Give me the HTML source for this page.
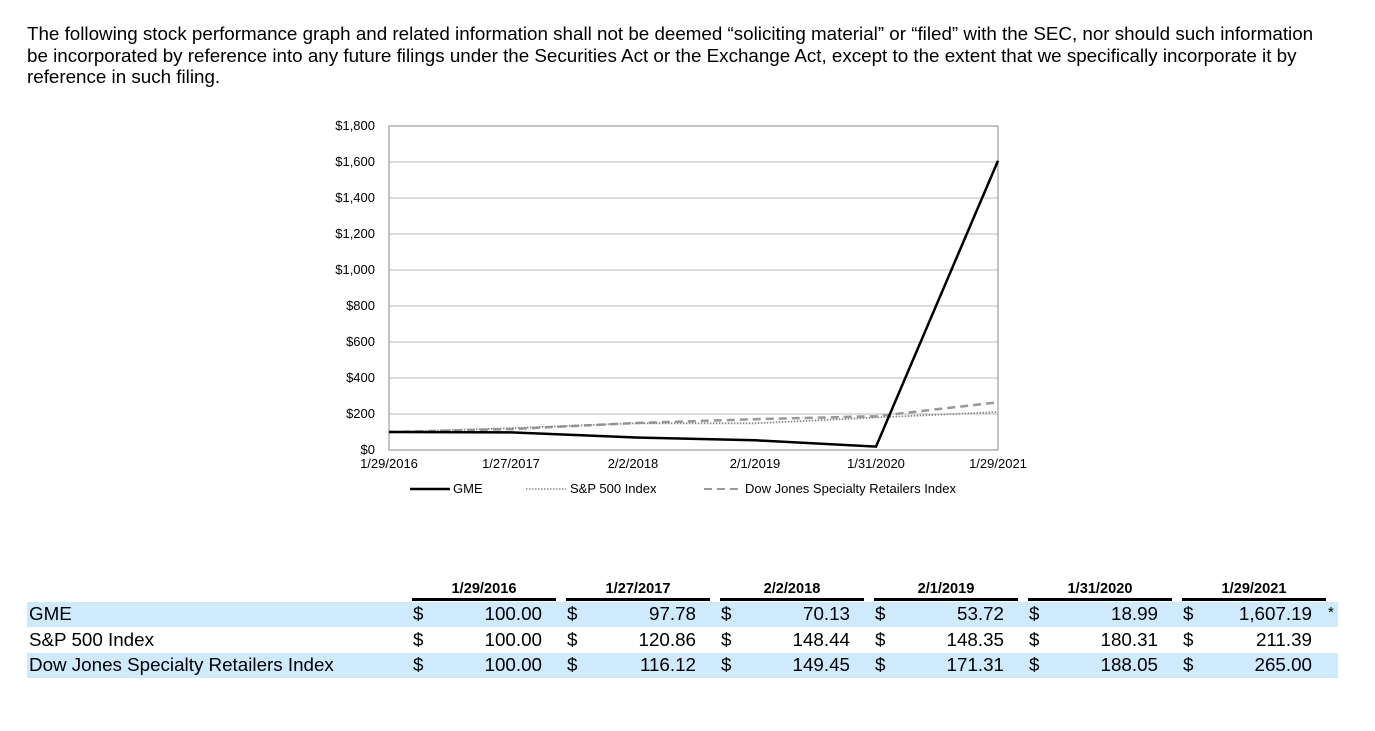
<!DOCTYPE html>
<html><head><meta charset="utf-8"><style>
body{margin:0;width:1375px;height:731px;background:#fff;font-family:"Liberation Sans",Arial,sans-serif;position:relative;overflow:hidden;color:#000}
.p{position:absolute;left:27px;top:23px;font-size:18.8px;line-height:21.5px;white-space:nowrap}
.t{position:absolute;font-size:18.8px;white-space:nowrap;line-height:20px}
.h{position:absolute;font-size:14.6px;font-weight:bold;top:581px;text-align:center;width:144px}
.band{position:absolute;left:27px;width:1311px;height:25px;background:#cfeafc}
.ul{position:absolute;top:598px;height:3px;background:#000;width:144px}
</style></head><body>
<div class="p">The following stock performance graph and related information shall not be deemed “soliciting material” or “filed” with the SEC, nor should such information<br>be incorporated by reference into any future filings under the Securities Act or the Exchange Act, except to the extent that we specifically incorporate it by<br>reference in such filing.</div>
<svg width="1375" height="731" style="position:absolute;left:0;top:0" font-family="Liberation Sans, Arial, sans-serif">
<g stroke="#bbb" stroke-width="1">
<line x1="389" x2="998" y1="162" y2="162"/><line x1="389" x2="998" y1="198" y2="198"/><line x1="389" x2="998" y1="234" y2="234"/><line x1="389" x2="998" y1="270" y2="270"/><line x1="389" x2="998" y1="306" y2="306"/><line x1="389" x2="998" y1="342" y2="342"/><line x1="389" x2="998" y1="378" y2="378"/><line x1="389" x2="998" y1="414" y2="414"/>
</g>
<rect x="389" y="126" width="609" height="324" fill="none" stroke="#888" stroke-width="1"/>
<g font-size="13" text-anchor="end">
<text x="375" y="130">$1,800</text><text x="375" y="166">$1,600</text><text x="375" y="202">$1,400</text><text x="375" y="238">$1,200</text><text x="375" y="274">$1,000</text><text x="375" y="310">$800</text><text x="375" y="346">$600</text><text x="375" y="382">$400</text><text x="375" y="418">$200</text><text x="375" y="454">$0</text>
</g>
<g font-size="13" text-anchor="middle">
<text x="389" y="468">1/29/2016</text><text x="511" y="468">1/27/2017</text><text x="633" y="468">2/2/2018</text><text x="755" y="468">2/1/2019</text><text x="876" y="468">1/31/2020</text><text x="998" y="468">1/29/2021</text>
</g>
<polyline fill="none" stroke="#999" stroke-width="2.5" stroke-dasharray="8,5" points="389,432 511,429.1 633,423.1 755,419.2 876,416.2 998,402.3"/>
<polyline fill="none" stroke="#888" stroke-width="1.8" stroke-dasharray="1.5,1.5" points="389,432 511,428.2 633,423.3 755,423.3 876,417.5 998,412"/>
<polyline fill="none" stroke="#000" stroke-width="2.5" points="389,432 511,432.4 633,437.4 755,440.3 876,446.6 998,160.7"/>
<line x1="410" x2="450" y1="489" y2="489" stroke="#000" stroke-width="2.5"/>
<text x="453" y="493" font-size="13">GME</text>
<line x1="526" x2="566" y1="489" y2="489" stroke="#888" stroke-width="1.5" stroke-dasharray="1.5,1.5"/>
<text x="570" y="493" font-size="13">S&amp;P 500 Index</text>
<line x1="704" x2="742" y1="489" y2="489" stroke="#999" stroke-width="2" stroke-dasharray="8,5"/>
<text x="745" y="493" font-size="13">Dow Jones Specialty Retailers Index</text>
</svg>
<div class="band" style="top:602px"></div>
<div class="band" style="top:653px"></div>
<div class="h" style="left:412px">1/29/2016</div><div class="h" style="left:566px">1/27/2017</div><div class="h" style="left:720px">2/2/2018</div><div class="h" style="left:874px">2/1/2019</div><div class="h" style="left:1028px">1/31/2020</div><div class="h" style="left:1182px">1/29/2021</div>
<div class="ul" style="left:412px"></div><div class="ul" style="left:566px"></div><div class="ul" style="left:720px"></div><div class="ul" style="left:874px"></div><div class="ul" style="left:1028px"></div><div class="ul" style="left:1182px"></div>
<div class="t" style="left:29px;top:604px">GME</div>
<div class="t" style="left:29px;top:630px">S&amp;P 500 Index</div>
<div class="t" style="left:29px;top:655px">Dow Jones Specialty Retailers Index</div>
<div id="vals"></div>
<script>
var rows=[[604,["100.00","97.78","70.13","53.72","18.99","1,607.19"]],[630,["100.00","120.86","148.44","148.35","180.31","211.39"]],[655,["100.00","116.12","149.45","171.31","188.05","265.00"]]];
var h="";rows.forEach(function(r){r[1].forEach(function(v,i){var x=413+154*i;h+='<div class="t" style="left:'+x+'px;top:'+r[0]+'px">$</div><div class="t" style="right:'+(1375-(542+154*i))+'px;top:'+r[0]+'px">'+v+'</div>';});});
h+='<div class="t" style="left:1328px;top:603px;font-size:15px">*</div>';
document.getElementById("vals").innerHTML=h;
</script>
</body></html>
